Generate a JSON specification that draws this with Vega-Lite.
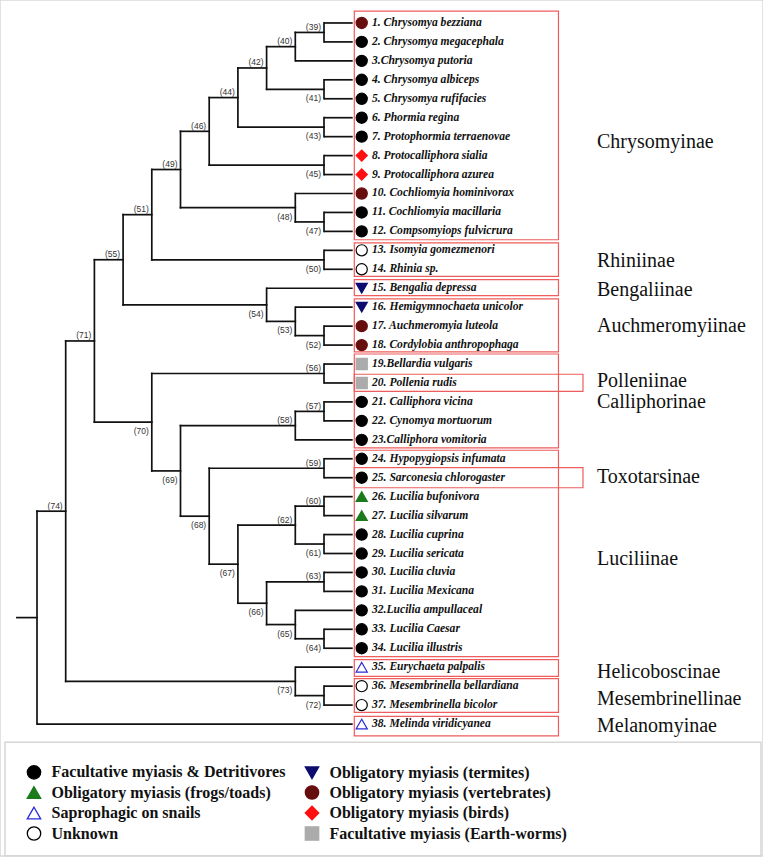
{
  "$schema": "https://vega.github.io/schema/vega-lite/v6.json",
  "width": 763,
  "height": 857,
  "autosize": {"type": "fit", "contains": "padding"},
  "padding": 0,
  "background": "white",
  "datasets": {
    "nodes": [
      {"id": "root", "lab": "", "d": 0, "pd": -0.7, "y": 32.383, "c1": 26.767, "c2": 38, "side": "none"},
      {"id": "74", "lab": "(74)", "d": 1, "pd": 0, "y": 26.767, "c1": 17.783, "c2": 35.75, "side": "above"},
      {"id": "71", "lab": "(71)", "d": 2, "pd": 1, "y": 17.783, "c1": 13.496, "c2": 22.07, "side": "above"},
      {"id": "55", "lab": "(55)", "d": 3, "pd": 2, "y": 13.496, "c1": 11.117, "c2": 15.875, "side": "above"},
      {"id": "51", "lab": "(51)", "d": 4, "pd": 3, "y": 11.117, "c1": 8.734, "c2": 13.5, "side": "above"},
      {"id": "49", "lab": "(49)", "d": 5, "pd": 4, "y": 8.734, "c1": 6.719, "c2": 10.75, "side": "above"},
      {"id": "46", "lab": "(46)", "d": 6, "pd": 5, "y": 6.719, "c1": 4.938, "c2": 8.5, "side": "above"},
      {"id": "44", "lab": "(44)", "d": 7, "pd": 6, "y": 4.938, "c1": 3.375, "c2": 6.5, "side": "above"},
      {"id": "42", "lab": "(42)", "d": 8, "pd": 7, "y": 3.375, "c1": 2.25, "c2": 4.5, "side": "above"},
      {"id": "40", "lab": "(40)", "d": 9, "pd": 8, "y": 2.25, "c1": 1.5, "c2": 3, "side": "above"},
      {"id": "39", "lab": "(39)", "d": 10, "pd": 9, "y": 1.5, "c1": 1, "c2": 2, "side": "above"},
      {"id": "41", "lab": "(41)", "d": 10, "pd": 8, "y": 4.5, "c1": 4, "c2": 5, "side": "below"},
      {"id": "43", "lab": "(43)", "d": 10, "pd": 7, "y": 6.5, "c1": 6, "c2": 7, "side": "below"},
      {"id": "45", "lab": "(45)", "d": 10, "pd": 6, "y": 8.5, "c1": 8, "c2": 9, "side": "below"},
      {"id": "48", "lab": "(48)", "d": 9, "pd": 5, "y": 10.75, "c1": 10, "c2": 11.5, "side": "below"},
      {"id": "47", "lab": "(47)", "d": 10, "pd": 9, "y": 11.5, "c1": 11, "c2": 12, "side": "below"},
      {"id": "50", "lab": "(50)", "d": 10, "pd": 4, "y": 13.5, "c1": 13, "c2": 14, "side": "below"},
      {"id": "54", "lab": "(54)", "d": 8, "pd": 3, "y": 15.875, "c1": 15, "c2": 16.75, "side": "below"},
      {"id": "53", "lab": "(53)", "d": 9, "pd": 8, "y": 16.75, "c1": 16, "c2": 17.5, "side": "below"},
      {"id": "52", "lab": "(52)", "d": 10, "pd": 9, "y": 17.5, "c1": 17, "c2": 18, "side": "below"},
      {"id": "70", "lab": "(70)", "d": 4, "pd": 2, "y": 22.07, "c1": 19.5, "c2": 24.641, "side": "below"},
      {"id": "56", "lab": "(56)", "d": 10, "pd": 4, "y": 19.5, "c1": 19, "c2": 20, "side": "above"},
      {"id": "69", "lab": "(69)", "d": 5, "pd": 4, "y": 24.641, "c1": 22.25, "c2": 27.031, "side": "below"},
      {"id": "58", "lab": "(58)", "d": 9, "pd": 5, "y": 22.25, "c1": 21.5, "c2": 23, "side": "above"},
      {"id": "57", "lab": "(57)", "d": 10, "pd": 9, "y": 21.5, "c1": 21, "c2": 22, "side": "above"},
      {"id": "68", "lab": "(68)", "d": 6, "pd": 5, "y": 27.031, "c1": 24.5, "c2": 29.563, "side": "below"},
      {"id": "59", "lab": "(59)", "d": 10, "pd": 6, "y": 24.5, "c1": 24, "c2": 25, "side": "above"},
      {"id": "67", "lab": "(67)", "d": 7, "pd": 6, "y": 29.563, "c1": 27.5, "c2": 31.625, "side": "below"},
      {"id": "62", "lab": "(62)", "d": 9, "pd": 7, "y": 27.5, "c1": 26.5, "c2": 28.5, "side": "above"},
      {"id": "60", "lab": "(60)", "d": 10, "pd": 9, "y": 26.5, "c1": 26, "c2": 27, "side": "above"},
      {"id": "61", "lab": "(61)", "d": 10, "pd": 9, "y": 28.5, "c1": 28, "c2": 29, "side": "below"},
      {"id": "66", "lab": "(66)", "d": 8, "pd": 7, "y": 31.625, "c1": 30.5, "c2": 32.75, "side": "below"},
      {"id": "63", "lab": "(63)", "d": 10, "pd": 8, "y": 30.5, "c1": 30, "c2": 31, "side": "above"},
      {"id": "65", "lab": "(65)", "d": 9, "pd": 8, "y": 32.75, "c1": 32, "c2": 33.5, "side": "below"},
      {"id": "64", "lab": "(64)", "d": 10, "pd": 9, "y": 33.5, "c1": 33, "c2": 34, "side": "below"},
      {"id": "73", "lab": "(73)", "d": 9, "pd": 1, "y": 35.75, "c1": 35, "c2": 36.5, "side": "below"},
      {"id": "72", "lab": "(72)", "d": 10, "pd": 9, "y": 36.5, "c1": 36, "c2": 37, "side": "below"}
    ],
    "tips": [
      {"i": 1, "pd": 10, "name": "1. Chrysomya bezziana", "habit": "Obligatory myiasis (vertebrates)"},
      {"i": 2, "pd": 10, "name": "2. Chrysomya megacephala", "habit": "Facultative myiasis & Detritivores"},
      {"i": 3, "pd": 9, "name": "3.Chrysomya putoria", "habit": "Facultative myiasis & Detritivores"},
      {"i": 4, "pd": 10, "name": "4. Chrysomya albiceps", "habit": "Facultative myiasis & Detritivores"},
      {"i": 5, "pd": 10, "name": "5. Chrysomya rufifacies", "habit": "Facultative myiasis & Detritivores"},
      {"i": 6, "pd": 10, "name": "6. Phormia regina", "habit": "Facultative myiasis & Detritivores"},
      {"i": 7, "pd": 10, "name": "7. Protophormia terraenovae", "habit": "Facultative myiasis & Detritivores"},
      {"i": 8, "pd": 10, "name": "8. Protocalliphora sialia", "habit": "Obligatory myiasis (birds)"},
      {"i": 9, "pd": 10, "name": "9. Protocalliphora azurea", "habit": "Obligatory myiasis (birds)"},
      {"i": 10, "pd": 9, "name": "10. Cochliomyia hominivorax", "habit": "Obligatory myiasis (vertebrates)"},
      {"i": 11, "pd": 10, "name": "11. Cochliomyia macillaria", "habit": "Facultative myiasis & Detritivores"},
      {"i": 12, "pd": 10, "name": "12. Compsomyiops fulvicrura", "habit": "Facultative myiasis & Detritivores"},
      {"i": 13, "pd": 10, "name": "13. Isomyia gomezmenori", "habit": "Unknown"},
      {"i": 14, "pd": 10, "name": "14. Rhinia sp.", "habit": "Unknown"},
      {"i": 15, "pd": 8, "name": "15. Bengalia depressa", "habit": "Obligatory myiasis (termites)"},
      {"i": 16, "pd": 9, "name": "16. Hemigymnochaeta unicolor", "habit": "Obligatory myiasis (termites)"},
      {"i": 17, "pd": 10, "name": "17. Auchmeromyia luteola", "habit": "Obligatory myiasis (vertebrates)"},
      {"i": 18, "pd": 10, "name": "18. Cordylobia anthropophaga", "habit": "Obligatory myiasis (vertebrates)"},
      {"i": 19, "pd": 10, "name": "19.Bellardia vulgaris", "habit": "Facultative myiasis (Earth-worms)"},
      {"i": 20, "pd": 10, "name": "20. Pollenia rudis", "habit": "Facultative myiasis (Earth-worms)"},
      {"i": 21, "pd": 10, "name": "21. Calliphora vicina", "habit": "Facultative myiasis & Detritivores"},
      {"i": 22, "pd": 10, "name": "22. Cynomya mortuorum", "habit": "Facultative myiasis & Detritivores"},
      {"i": 23, "pd": 9, "name": "23.Calliphora vomitoria", "habit": "Facultative myiasis & Detritivores"},
      {"i": 24, "pd": 10, "name": "24. Hypopygiopsis infumata", "habit": "Facultative myiasis & Detritivores"},
      {"i": 25, "pd": 10, "name": "25. Sarconesia chlorogaster", "habit": "Facultative myiasis & Detritivores"},
      {"i": 26, "pd": 10, "name": "26. Lucilia bufonivora", "habit": "Obligatory myiasis (frogs/toads)"},
      {"i": 27, "pd": 10, "name": "27. Lucilia silvarum", "habit": "Obligatory myiasis (frogs/toads)"},
      {"i": 28, "pd": 10, "name": "28. Lucilia cuprina", "habit": "Facultative myiasis & Detritivores"},
      {"i": 29, "pd": 10, "name": "29. Lucilia sericata", "habit": "Facultative myiasis & Detritivores"},
      {"i": 30, "pd": 10, "name": "30. Lucilia cluvia", "habit": "Facultative myiasis & Detritivores"},
      {"i": 31, "pd": 10, "name": "31. Lucilia Mexicana", "habit": "Facultative myiasis & Detritivores"},
      {"i": 32, "pd": 9, "name": "32.Lucilia ampullaceal", "habit": "Facultative myiasis & Detritivores"},
      {"i": 33, "pd": 10, "name": "33. Lucilia Caesar", "habit": "Facultative myiasis & Detritivores"},
      {"i": 34, "pd": 10, "name": "34. Lucilia illustris", "habit": "Facultative myiasis & Detritivores"},
      {"i": 35, "pd": 9, "name": "35. Eurychaeta palpalis", "habit": "Saprophagic on snails"},
      {"i": 36, "pd": 10, "name": "36. Mesembrinella bellardiana", "habit": "Unknown"},
      {"i": 37, "pd": 10, "name": "37. Mesembrinella bicolor", "habit": "Unknown"},
      {"i": 38, "pd": 0, "name": "38. Melinda viridicyanea", "habit": "Saprophagic on snails"}
    ],
    "boxes": [
      {"clade": "Chrysomyinae", "y1": 0.37, "y2": 12.44, "kind": "clade"},
      {"clade": "Rhiniinae", "y1": 12.61, "y2": 14.37, "kind": "clade"},
      {"clade": "Bengaliinae", "y1": 14.55, "y2": 15.39, "kind": "clade"},
      {"clade": "Auchmeromyiinae", "y1": 15.56, "y2": 18.36, "kind": "clade"},
      {"clade": "Calliphorinae", "y1": 18.47, "y2": 23.42, "kind": "clade"},
      {"clade": "Polleniinae", "y1": 19.54, "y2": 20.44, "kind": "overlap"},
      {"clade": "Luciliinae", "y1": 23.55, "y2": 34.44, "kind": "clade"},
      {"clade": "Toxotarsinae", "y1": 24.47, "y2": 25.53, "kind": "overlap"},
      {"clade": "Helicoboscinae", "y1": 34.6, "y2": 35.49, "kind": "clade"},
      {"clade": "Mesembrinellinae", "y1": 35.6, "y2": 37.39, "kind": "clade"},
      {"clade": "Melanomyinae", "y1": 37.6, "y2": 38.62, "kind": "clade"}
    ],
    "groups": [
      {"name": "Chrysomyinae", "y": 7.26},
      {"name": "Rhiniinae", "y": 13.58},
      {"name": "Bengaliinae", "y": 15.07},
      {"name": "Auchmeromyiinae", "y": 16.97},
      {"name": "Polleniinae", "y": 19.9},
      {"name": "Calliphorinae", "y": 20.98},
      {"name": "Toxotarsinae", "y": 24.95},
      {"name": "Luciliinae", "y": 29.31},
      {"name": "Helicoboscinae", "y": 35.28},
      {"name": "Mesembrinellinae", "y": 36.69},
      {"name": "Melanomyinae", "y": 38.13}
    ]
  },
  "layer": [
    {
      "data": {"values": [{"part": "legend frame"}]},
      "mark": {"type": "rect", "fill": null, "stroke": "#d6d6d6", "strokeWidth": 1.5},
      "encoding": {
        "x": {"datum": -1.115, "type": "quantitative", "scale": {"domain": [-1.2892, 25.2962], "nice": false, "zero": false}, "axis": null},
        "x2": {"datum": 25.226},
        "y": {"datum": 38.955, "type": "quantitative", "scale": {"domain": [-0.2124, 44.965], "nice": false, "zero": false, "reverse": true}, "axis": null},
        "y2": {"datum": 44.95}
      }
    },
    {
      "data": {"name": "nodes"},
      "mark": {"type": "rule", "color": "#111111", "strokeWidth": 1.7, "strokeCap": "square"},
      "encoding": {
        "x": {"field": "pd", "type": "quantitative", "scale": {"domain": [-1.2892, 25.2962], "nice": false, "zero": false}, "axis": null},
        "x2": {"field": "d"},
        "y": {"field": "y", "type": "quantitative", "scale": {"domain": [-0.2124, 44.965], "nice": false, "zero": false, "reverse": true}, "axis": null}
      }
    },
    {
      "data": {"name": "nodes"},
      "mark": {"type": "rule", "color": "#111111", "strokeWidth": 1.7, "strokeCap": "square"},
      "encoding": {
        "x": {"field": "d", "type": "quantitative", "scale": {"domain": [-1.2892, 25.2962], "nice": false, "zero": false}, "axis": null},
        "y": {"field": "c1", "type": "quantitative", "scale": {"domain": [-0.2124, 44.965], "nice": false, "zero": false, "reverse": true}, "axis": null},
        "y2": {"field": "c2"}
      }
    },
    {
      "data": {"name": "tips"},
      "mark": {"type": "rule", "color": "#111111", "strokeWidth": 1.7},
      "encoding": {
        "x": {"field": "pd", "type": "quantitative", "scale": {"domain": [-1.2892, 25.2962], "nice": false, "zero": false}, "axis": null},
        "x2": {"datum": 11},
        "y": {"field": "i", "type": "quantitative", "scale": {"domain": [-0.2124, 44.965], "nice": false, "zero": false, "reverse": true}, "axis": null}
      }
    },
    {
      "data": {"name": "boxes"},
      "transform": [{"filter": "datum.kind === 'clade'"}],
      "mark": {"type": "rect", "fill": null, "stroke": "#ee5c5c", "strokeWidth": 1.2},
      "encoding": {
        "x": {"datum": 11.056, "type": "quantitative", "scale": {"domain": [-1.2892, 25.2962], "nice": false, "zero": false}, "axis": null},
        "x2": {"datum": 18.17},
        "y": {"field": "y1", "type": "quantitative", "scale": {"domain": [-0.2124, 44.965], "nice": false, "zero": false, "reverse": true}, "axis": null},
        "y2": {"field": "y2"}
      }
    },
    {
      "data": {"name": "boxes"},
      "transform": [{"filter": "datum.kind === 'overlap'"}],
      "mark": {"type": "rect", "fill": null, "stroke": "#ee5c5c", "strokeWidth": 1.2},
      "encoding": {
        "x": {"datum": 11.056, "type": "quantitative", "scale": {"domain": [-1.2892, 25.2962], "nice": false, "zero": false}, "axis": null},
        "x2": {"datum": 19.024},
        "y": {"field": "y1", "type": "quantitative", "scale": {"domain": [-0.2124, 44.965], "nice": false, "zero": false, "reverse": true}, "axis": null},
        "y2": {"field": "y2"}
      }
    },
    {
      "data": {"name": "tips"},
      "mark": {"type": "point", "filled": true, "size": 125, "strokeWidth": 1.2, "opacity": 1},
      "encoding": {
        "x": {"datum": 11.3136, "type": "quantitative", "scale": {"domain": [-1.2892, 25.2962], "nice": false, "zero": false}, "axis": null},
        "y": {"field": "i", "type": "quantitative", "scale": {"domain": [-0.2124, 44.965], "nice": false, "zero": false, "reverse": true}, "axis": null},
        "shape": {"field": "habit", "type": "nominal", "legend": {"title": null, "labelFont": "Liberation Serif", "labelFontWeight": "bold", "labelFontSize": 16},
          "scale": {"domain": ["Facultative myiasis & Detritivores", "Obligatory myiasis (frogs/toads)", "Saprophagic on snails", "Unknown", "Obligatory myiasis (termites)", "Obligatory myiasis (vertebrates)", "Obligatory myiasis (birds)", "Facultative myiasis (Earth-worms)"],
            "range": ["circle", "triangle-up", "triangle-up", "circle", "triangle-down", "circle", "diamond", "square"]}},
        "fill": {"field": "habit", "type": "nominal", "legend": {"title": null, "labelFont": "Liberation Serif", "labelFontWeight": "bold", "labelFontSize": 16},
          "scale": {"domain": ["Facultative myiasis & Detritivores", "Obligatory myiasis (frogs/toads)", "Saprophagic on snails", "Unknown", "Obligatory myiasis (termites)", "Obligatory myiasis (vertebrates)", "Obligatory myiasis (birds)", "Facultative myiasis (Earth-worms)"],
            "range": ["#000000", "#1b7a1b", "#ffffff", "#ffffff", "#0c0c6e", "#660e0e", "#ff1010", "#ababab"]}},
        "stroke": {"field": "habit", "type": "nominal", "legend": {"title": null, "labelFont": "Liberation Serif", "labelFontWeight": "bold", "labelFontSize": 16},
          "scale": {"domain": ["Facultative myiasis & Detritivores", "Obligatory myiasis (frogs/toads)", "Saprophagic on snails", "Unknown", "Obligatory myiasis (termites)", "Obligatory myiasis (vertebrates)", "Obligatory myiasis (birds)", "Facultative myiasis (Earth-worms)"],
            "range": ["#000000", "#1b7a1b", "#2b2bd6", "#000000", "#0c0c6e", "#660e0e", "#ff1010", "#ababab"]}}
      }
    },
    {
      "data": {"name": "tips"},
      "mark": {"type": "text", "align": "left", "baseline": "middle", "font": "Liberation Serif", "fontSize": 11.6, "fontWeight": "bold", "fontStyle": "italic", "fill": "#111111"},
      "encoding": {
        "x": {"datum": 11.672, "type": "quantitative", "scale": {"domain": [-1.2892, 25.2962], "nice": false, "zero": false}, "axis": null},
        "y": {"field": "i", "type": "quantitative", "scale": {"domain": [-0.2124, 44.965], "nice": false, "zero": false, "reverse": true}, "axis": null},
        "text": {"field": "name"}
      }
    },
    {
      "data": {"name": "nodes"},
      "transform": [{"filter": "datum.side === 'above'"}],
      "mark": {"type": "text", "align": "right", "baseline": "middle", "dx": -3, "dy": -5.5, "font": "Liberation Sans", "fontSize": 8.5, "fill": "#333333"},
      "encoding": {
        "x": {"field": "d", "type": "quantitative", "scale": {"domain": [-1.2892, 25.2962], "nice": false, "zero": false}, "axis": null},
        "y": {"field": "y", "type": "quantitative", "scale": {"domain": [-0.2124, 44.965], "nice": false, "zero": false, "reverse": true}, "axis": null},
        "text": {"field": "lab"}
      }
    },
    {
      "data": {"name": "nodes"},
      "transform": [{"filter": "datum.side === 'below'"}],
      "mark": {"type": "text", "align": "right", "baseline": "middle", "dx": -3, "dy": 9, "font": "Liberation Sans", "fontSize": 8.5, "fill": "#333333"},
      "encoding": {
        "x": {"field": "d", "type": "quantitative", "scale": {"domain": [-1.2892, 25.2962], "nice": false, "zero": false}, "axis": null},
        "y": {"field": "y", "type": "quantitative", "scale": {"domain": [-0.2124, 44.965], "nice": false, "zero": false, "reverse": true}, "axis": null},
        "text": {"field": "lab"}
      }
    },
    {
      "data": {"name": "groups"},
      "mark": {"type": "text", "align": "left", "baseline": "middle", "font": "Liberation Serif", "fontSize": 20, "fill": "#111111"},
      "encoding": {
        "x": {"datum": 19.512, "type": "quantitative", "scale": {"domain": [-1.2892, 25.2962], "nice": false, "zero": false}, "axis": null},
        "y": {"field": "y", "type": "quantitative", "scale": {"domain": [-0.2124, 44.965], "nice": false, "zero": false, "reverse": true}, "axis": null},
        "text": {"field": "name"}
      }
    }
  ],
  "config": {
    "font": "Liberation Serif",
    "view": {"stroke": "#d9d9d9", "strokeWidth": 1.5},
    "legend": {
      "orient": "none",
      "legendX": 26,
      "legendY": 764,
      "columns": 2,
      "padding": 0,
      "labelFont": "Liberation Serif",
      "labelFontWeight": "bold",
      "labelFontSize": 16,
      "labelColor": "#111111",
      "labelLimit": 400,
      "labelOffset": 9.5,
      "symbolSize": 180,
      "symbolStrokeWidth": 1.3,
      "rowPadding": 0.5,
      "columnPadding": 16
    }
  }
}
